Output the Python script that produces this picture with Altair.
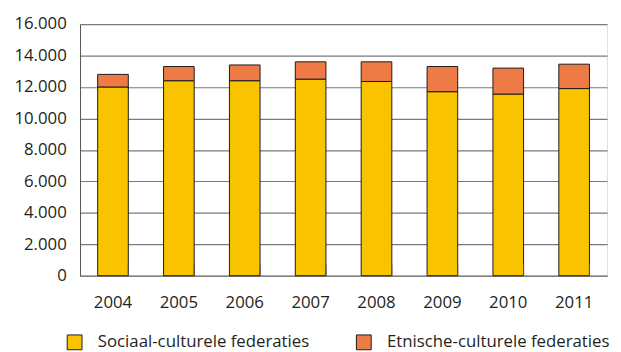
import altair as alt
import pandas as pd

years = ["2004", "2005", "2006", "2007", "2008", "2009", "2010", "2011"]
sociaal = [12000, 12400, 12400, 12500, 12350, 11700, 11550, 11900]
etnisch = [800, 900, 1000, 1100, 1250, 1600, 1650, 1550]
series = ["Sociaal-culturele federaties", "Etnische-culturele federaties"]
colors = ["#FAC300", "#EE7B46"]
y_ticks = [0, 2000, 4000, 6000, 8000, 10000, 12000, 14000, 16000]

rows = []
for i, y in enumerate(years):
    rows.append({"jaar": y, "reeks": series[0], "waarde": sociaal[i], "volg": 0})
    rows.append({"jaar": y, "reeks": series[1], "waarde": etnisch[i], "volg": 1})
df = pd.DataFrame(rows)
df_years = pd.DataFrame({"jaar": years})

FONT = "Open Sans"
TXT = "#231f20"
FS = 17

x_scale = alt.Scale(domain=years, paddingInner=0.535, paddingOuter=0.2675)

bars = alt.Chart(df).mark_bar(stroke="#1a1a1a", strokeWidth=1).encode(
    x=alt.X("jaar:O", scale=x_scale, title=None,
            axis=alt.Axis(labelAngle=0, tickSize=0, labelPadding=19, labelFontSize=FS,
                          labelFont=FONT, labelColor=TXT, domainColor="#808080",
                          domainWidth=1.5)),
    y=alt.Y("waarde:Q", stack="zero", title=None,
            scale=alt.Scale(domain=[0, 16000], nice=False),
            axis=alt.Axis(values=y_ticks, tickSize=0, labelPadding=14, labelFontSize=FS,
                          labelFont=FONT, labelColor=TXT, gridColor="#7a7a7a",
                          gridWidth=1.2, domainColor="#555555",
                          labelExpr="replace(format(datum.value, ','), ',', '.')")),
    color=alt.Color("reeks:N", scale=alt.Scale(domain=series, range=colors), title=None,
                    legend=alt.Legend(orient="none", legendX=-14, legendY=314,
                                      direction="horizontal", columns=2,
                                      symbolType="square", symbolSize=225,
                                      symbolStrokeColor="#1a1a1a", symbolStrokeWidth=1,
                                      symbolOpacity=1,
                                      labelFont=FONT, labelFontSize=FS, labelColor=TXT,
                                      labelOffset=15, columnPadding=45, labelLimit=400)),
    order=alt.Order("volg:Q"),
)

ticks = alt.Chart(df_years).mark_rule(color="#555555", strokeWidth=1).encode(
    x=alt.X("jaar:O", scale=x_scale, bandPosition=1),
    y=alt.value(244),
    y2=alt.value(255),
)

chart = alt.layer(bars, ticks).properties(
    width=534, height=255,
    padding={"left": 73, "top": 14, "right": 6, "bottom": 75},
    autosize=alt.AutoSizeParams(type="none"),
).configure_view(stroke=None).configure(background="white")

chart.save("out.html", embed_options={"renderer": "svg", "actions": False})
